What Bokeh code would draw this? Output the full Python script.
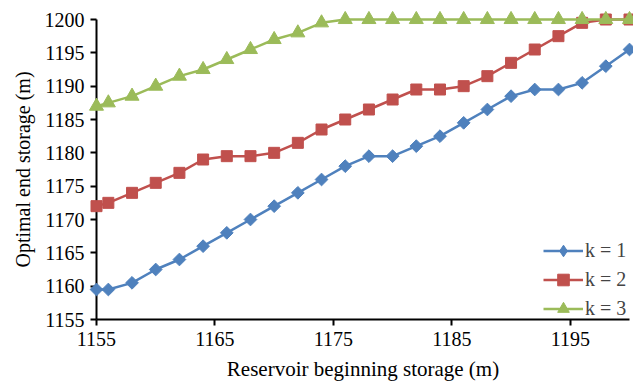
import math
from bokeh.plotting import figure
from bokeh.models import Range1d, FixedTicker, Legend, LegendItem
from bokeh.embed import file_html
from bokeh.resources import INLINE

begin_storage = [1155, 1156, 1158, 1160, 1162, 1164, 1166, 1168, 1170, 1172, 1174, 1176,
                 1178, 1180, 1182, 1184, 1186, 1188, 1190, 1192, 1194, 1196, 1198, 1200]
k1 = [1159.5, 1159.5, 1160.5, 1162.5, 1164, 1166, 1168, 1170, 1172, 1174, 1176, 1178,
      1179.5, 1179.5, 1181, 1182.5, 1184.5, 1186.5, 1188.5, 1189.5, 1189.5, 1190.5, 1193, 1195.5]
k2 = [1172, 1172.5, 1174, 1175.5, 1177, 1179, 1179.5, 1179.5, 1180, 1181.5, 1183.5, 1185,
      1186.5, 1188, 1189.5, 1189.5, 1190, 1191.5, 1193.5, 1195.5, 1197.5, 1199.5, 1200, 1200]
k3 = [1187, 1187.5, 1188.5, 1190, 1191.5, 1192.5, 1194, 1195.5, 1197, 1198, 1199.5, 1200,
      1200, 1200, 1200, 1200, 1200, 1200, 1200, 1200, 1200, 1200, 1200, 1200]
x_ticks = [1155, 1165, 1175, 1185, 1195]
y_ticks = [1155, 1160, 1165, 1170, 1175, 1180, 1185, 1190, 1195, 1200]
labels = ["k = 1", "k = 2", "k = 3"]

FONT = "'Liberation Serif', 'Times New Roman', serif"

p = figure(frame_width=533, frame_height=300, output_backend="svg", toolbar_location=None,
           x_range=Range1d(1155, 1200), y_range=Range1d(1155, 1200),
           min_border_left=96, min_border_top=19, min_border_right=4, min_border_bottom=10)
p.outline_line_color = None
p.grid.visible = False

for ax in (p.xaxis[0], p.yaxis[0]):
    ax.axis_line_width = 2
    ax.axis_line_color = "black"
    ax.major_tick_line_width = 2
    ax.major_tick_line_color = "black"
    ax.major_tick_out = 6
    ax.major_tick_in = 0
    ax.minor_tick_line_color = None
    ax.major_label_text_font = FONT
    ax.major_label_text_font_size = "20px"
    ax.major_label_text_color = "black"
    ax.axis_label_text_font = FONT
    ax.axis_label_text_font_size = "20px"
    ax.axis_label_text_font_style = "normal"
    ax.axis_label_text_color = "black"

p.xaxis.ticker = FixedTicker(ticks=x_ticks)
p.yaxis.ticker = FixedTicker(ticks=y_ticks)
p.xaxis.axis_label = "Reservoir beginning storage (m)"
p.yaxis.axis_label = "Optimal end storage (m)"
p.xaxis.axis_label_text_font_size = "21px"
p.xaxis.major_label_standoff = 6
p.yaxis.major_label_standoff = 6
p.xaxis.axis_label_standoff = 8
p.yaxis.axis_label_standoff = 8

colors = ["#4F81BD", "#C0504D", "#9BBB59"]

l1 = p.line(begin_storage, k1, line_color=colors[0], line_width=2.5, level="overlay")
m1 = p.scatter(begin_storage, k1, marker="square", size=9, angle=math.pi / 4,
               fill_color=colors[0], line_color=colors[0], level="overlay")
# legend-only diamond (the point lies outside the frame and is clipped away)
proxy = p.scatter([1300], [1300], marker="diamond", size=15,
                  fill_color=colors[0], line_color=colors[0])
l2 = p.line(begin_storage, k2, line_color=colors[1], line_width=2.5, level="overlay")
m2 = p.scatter(begin_storage, k2, marker="square", size=11, fill_color=colors[1],
               line_color=colors[1], level="overlay")
l3 = p.line(begin_storage, k3, line_color=colors[2], line_width=2.5, level="overlay")
m3 = p.scatter(begin_storage, k3, marker="triangle", size=14, fill_color=colors[2],
               line_color=colors[2], level="overlay")

legend = Legend(items=[LegendItem(label=labels[0], renderers=[l1, proxy]),
                       LegendItem(label=labels[1], renderers=[l2, m2]),
                       LegendItem(label=labels[2], renderers=[l3, m3])],
                location=(447, -4), border_line_color=None, background_fill_alpha=0,
                label_text_font=FONT, label_text_font_size="20px",
                glyph_width=40, glyph_height=29, label_height=29, spacing=0,
                label_standoff=2, padding=0, margin=0)
p.add_layout(legend)

open("out.html", "w").write(file_html(p, INLINE))
